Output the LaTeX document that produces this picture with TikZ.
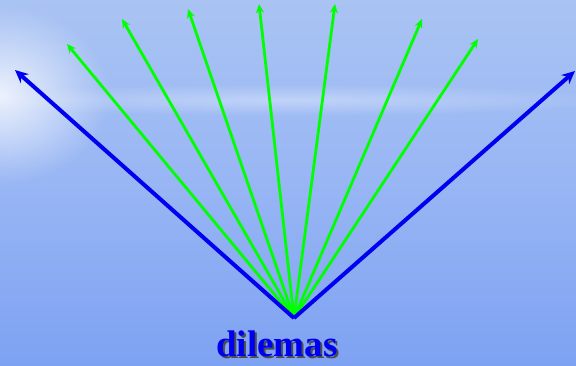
\documentclass[tikz,border=0pt]{standalone}
\usepackage{fontspec}
\setmainfont{Liberation Serif}
\usetikzlibrary{arrows.meta,fadings}
\definecolor{skytop}{HTML}{A9C3F3}
\definecolor{skymid}{HTML}{98B6F4}
\definecolor{skylow}{HTML}{7EA2F2}
\definecolor{dilblue}{HTML}{0000F0}
\definecolor{dilgreen}{HTML}{00FF00}
\tikzfading[name=glow,inner color=transparent!0,outer color=transparent!100]

\begin{document}
\begin{tikzpicture}[x=1pt,y=-1pt]
  \useasboundingbox (0,0) rectangle (576,365);
  \clip (0,0) rectangle (576,365);
  % background sky
  \shade[top color=skytop,bottom color=skylow,middle color=skymid] (0,0) rectangle (576,365);
  \fill[white,opacity=0.8,path fading=glow] (0,95) ellipse[x radius=110,y radius=90];
  \fill[white,opacity=0.35,path fading=glow] (288,100) ellipse[x radius=340,y radius=16];

  \coordinate (base) at (294,318);
  \coordinate (left) at (15,70);
  \coordinate (right) at (575,71);

  % green arrows
  \foreach \n/\x/\y in {1/67/44,2/122/19,3/188/9,4/259/4,5/335/4,6/422/19,7/478/39}{
    \coordinate (g\n) at (\x,\y);
    \draw[-{Stealth[length=9pt,width=8pt]},line width=2.8pt,dilgreen] (base) -- (g\n);
  }

  % outer blue arrows
  \draw[-{Stealth[length=13pt,width=12pt]},line width=4pt,dilblue] (base) -- (left);
  \draw[-{Stealth[length=13pt,width=12pt]},line width=4pt,dilblue] (base) -- (right);

  \node[font=\bfseries\fontsize{37}{40}\selectfont,text=black!70,anchor=base] (shadow) at (279,358) {dilemas};
  \node[font=\bfseries\fontsize{37}{40}\selectfont,text=dilblue,anchor=base] (label) at (277,356) {dilemas};
\end{tikzpicture}
\end{document}
